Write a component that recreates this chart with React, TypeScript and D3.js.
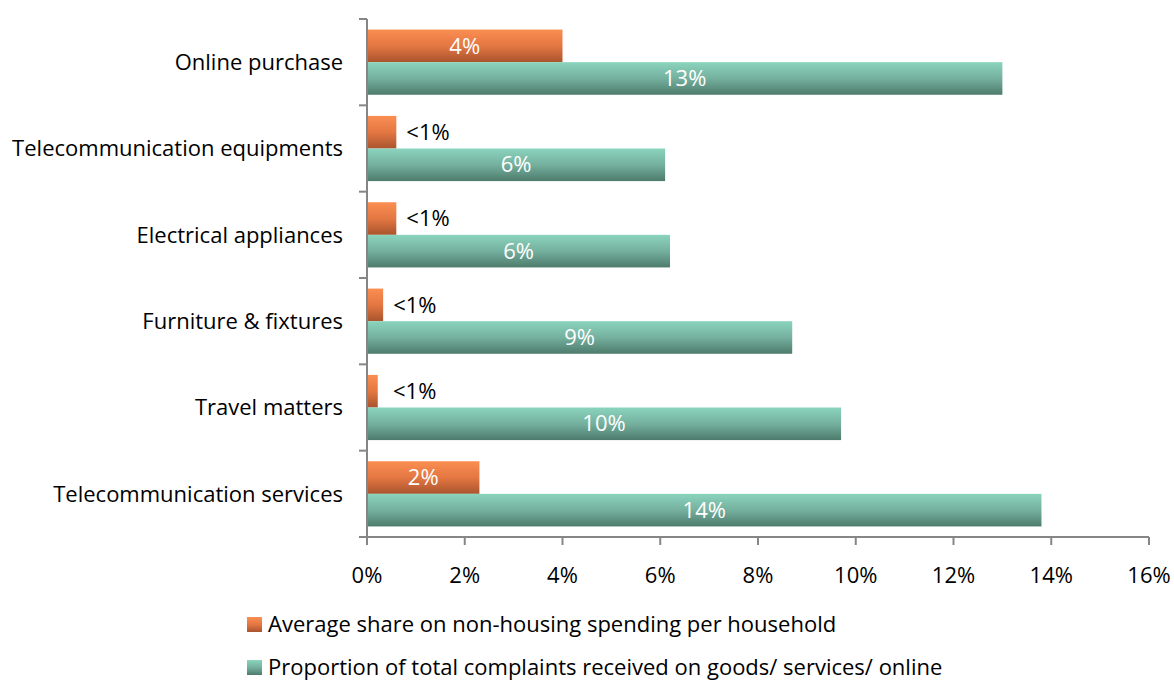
import React from "react";
import * as d3 from "d3";

const categories = [
  "Online purchase",
  "Telecommunication equipments",
  "Electrical appliances",
  "Furniture & fixtures",
  "Travel matters",
  "Telecommunication services",
];
const spendingShare = [4.0, 0.6, 0.6, 0.33, 0.22, 2.3];
const spendingLabels = ["4%", "<1%", "<1%", "<1%", "<1%", "2%"];
const complaintShare = [13.0, 6.1, 6.2, 8.7, 9.7, 13.8];
const complaintLabels = ["13%", "6%", "6%", "9%", "10%", "14%"];
const xTicks = [0, 2, 4, 6, 8, 10, 12, 14, 16];
const seriesNames = [
  "Average share on non-housing spending per household",
  "Proportion of total complaints received on goods/ services/ online",
];

const W = 1174;
const H = 680;
const FONT = "'Open Sans', 'Noto Sans', sans-serif";
const FS = 22;

export default function App() {
  const x = d3.scaleLinear().domain([0, 16]).range([367, 1149]);
  const y = d3.scaleBand<string>().domain(categories).range([19, 537]).paddingInner(0.245).paddingOuter(0.1225);
  const bh = y.bandwidth() / 2;
  const axisColor = "#868686";
  const step = y.step();

  return (
    <svg width={W} height={H} style={{ position: "absolute", left: 0, top: 0, background: "#fff" }}>
      <defs>
        <linearGradient id="gOrange" x1="0" y1="0" x2="0" y2="1">
          <stop offset="0" stopColor="#FA8E52" />
          <stop offset="0.5" stopColor="#E47742" />
          <stop offset="1" stopColor="#A9542E" />
        </linearGradient>
        <linearGradient id="gTeal" x1="0" y1="0" x2="0" y2="1">
          <stop offset="0" stopColor="#8AD4BD" />
          <stop offset="0.5" stopColor="#75B09E" />
          <stop offset="1" stopColor="#4D7B6C" />
        </linearGradient>
      </defs>

      {/* bars */}
      {categories.map((c, i) => {
        const y0 = y(c)!;
        const ow = x(spendingShare[i]) - x(0);
        const tw = x(complaintShare[i]) - x(0);
        const inside = ow > 60;
        return (
          <g key={c}>
            <rect x={x(0)} y={y0} width={ow} height={bh} fill="url(#gOrange)" />
            <rect x={x(0)} y={y0 + bh} width={tw} height={bh} fill="url(#gTeal)" />
            <text
              x={inside ? x(0) + ow / 2 : Math.max(x(spendingShare[i]) + 10, x(0) + 26)}
              y={y0 + bh / 2}
              dy="0.35em"
              textAnchor={inside ? "middle" : "start"}
              fill={inside ? "#fff" : "#000"}
              fontFamily={FONT}
              fontSize={FS}
            >
              {spendingLabels[i]}
            </text>
            <text
              x={x(0) + tw / 2}
              y={y0 + bh * 1.5}
              dy="0.35em"
              textAnchor="middle"
              fill="#fff"
              fontFamily={FONT}
              fontSize={FS}
            >
              {complaintLabels[i]}
            </text>
            <text
              x={343}
              y={y0 + bh}
              dy="0.35em"
              textAnchor="end"
              fill="#000"
              fontFamily={FONT}
              fontSize={FS}
            >
              {c}
            </text>
          </g>
        );
      })}

      {/* y axis */}
      <line x1={x(0)} x2={x(0)} y1={19} y2={537} stroke={axisColor} strokeWidth={2} />
      {d3.range(categories.length + 1).map((k) => (
        <line key={k} x1={x(0) - 8} x2={x(0)} y1={19 + k * step} y2={19 + k * step} stroke={axisColor} strokeWidth={2} />
      ))}

      {/* x axis */}
      <line x1={x(0)} x2={x(16)} y1={537} y2={537} stroke={axisColor} strokeWidth={2} />
      {xTicks.map((t) => (
        <g key={t}>
          <line x1={x(t)} x2={x(t)} y1={537} y2={545} stroke={axisColor} strokeWidth={2} />
          <text x={x(t)} y={583} textAnchor="middle" fill="#000" fontFamily={FONT} fontSize={FS}>
            {t}%
          </text>
        </g>
      ))}

      {/* legend */}
      {seriesNames.map((s, i) => (
        <g key={s} transform={`translate(247, ${617 + i * 43})`}>
          <rect x={0} y={0} width={15} height={15} fill={i === 0 ? "url(#gOrange)" : "url(#gTeal)"} />
          <text x={21} y={7.5} dy="0.35em" fill="#000" fontFamily={FONT} fontSize={FS}>
            {s}
          </text>
        </g>
      ))}
    </svg>
  );
}
